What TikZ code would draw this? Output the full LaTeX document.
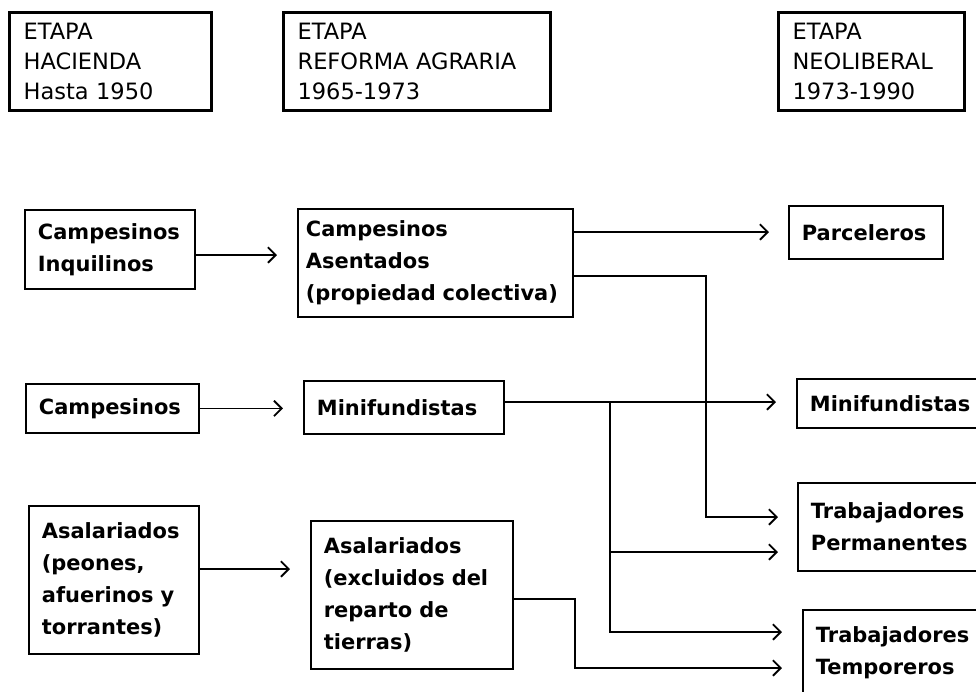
\documentclass[tikz,border=0pt]{standalone}
\usepackage{fontspec}
\setmainfont{DejaVu Sans}
\usetikzlibrary{arrows.meta, positioning}
\hyphenpenalty=10000

\begin{document}
\begin{tikzpicture}[x=0.025cm,y=-0.025cm,
	every node/.style={draw, anchor=north west, align=left, inner ysep=0pt, line width=1.3pt},
	etapa/.style={line width=2.3pt, inner xsep=0.35cm, font=\fontsize{16}{21.3}\selectfont},
	caja/.style={inner xsep=0.325cm, font=\fontsize{14.9}{22.8}\selectfont\bfseries},
	flecha/.style={line width=1.3pt, -{Straight Barb[length=5.5pt,width=11pt]}}]
									\useasboundingbox (0,0) rectangle (976,692);
									\clip (0,0) rectangle (976,692);
									\node[etapa, text width=4.35cm, minimum height=2.45cm] (hacienda) at (8,11) {ETAPA\\HACIENDA\\Hasta 1950};
									\node[etapa, text width=5.975cm, minimum height=2.45cm] (reforma) at (282,11) {ETAPA\\REFORMA AGRARIA\\1965-1973};
									\node[etapa, text width=3.95cm, minimum height=2.45cm] (neolib) at (777,11) {ETAPA\\NEOLIBERAL\\1973-1990};
									\node[caja, text width=3.6cm, minimum height=1.975cm] (inq) at (24,209) {Campesinos\\Inquilinos};
									\node[caja, inner xsep=0.2cm, text width=6.475cm, minimum height=2.7cm] (ase) at (297,208) {Campesinos\\Asentados\\(propiedad colectiva)};
									\node[caja, text width=3.2cm, minimum height=1.325cm] (parc) at (788,205) {Parceleros};
									\node[caja, text width=3.675cm, minimum height=1.225cm] (camp) at (25,383) {Campesinos};
									\node[caja, text width=4.35cm, minimum height=1.325cm] (minm) at (303,380) {Minifundistas};
									\node[caja, text width=4.35cm, minimum height=1.225cm] (minr) at (796,378) {Minifundistas};
									\node[caja, text width=3.6cm, minimum height=3.7cm] (asa1) at (28,505) {Asalariados\\(peones,\\afuerinos y\\torrantes)};
									\node[caja, text width=4.4cm, minimum height=3.7cm] (asa2) at (310,520) {Asalariados\\(excluidos del\\reparto de\\tierras)};
									\node[caja, text width=4.35cm, minimum height=2.2cm] (perm) at (797,482) {Trabajadores\\Permanentes};
									\node[caja, text width=4.35cm, minimum height=2.15cm] (temp) at (802,609) {Trabajadores\\Temporeros};
									\coordinate (bajada) at (706,517);
									\coordinate (nudo) at (610,402);
									\coordinate (ramal) at (610,552);
									\coordinate (quiebre) at (575,668);
									\draw[flecha, shorten >=0.5cm] (inq.east |- 0,255) -- (ase.west |- 0,255);
									\draw[flecha, shorten >=0.475cm] (ase.east |- 0,232) -- (parc.west |- 0,232);
									\draw[flecha, shorten >=0.475cm] (ase.east |- 0,276) -| (bajada) -- (perm.west |- bajada);
									\draw[flecha, shorten >=0.5cm] (camp.east) -- (minm.west |- camp.east);
									\draw[flecha, shorten >=0.5cm] (minm.east |- nudo) -- (minr.west |- nudo);
									\draw[flecha, shorten >=0.5cm] (nudo) |- (temp.west |- 0,632);
									\draw[flecha, shorten >=0.475cm] (ramal) -- (perm.west |- ramal);
									\draw[flecha, shorten >=0.5cm] (asa1.east |- 0,569) -- (asa2.west |- 0,569);
									\draw[flecha, shorten >=0.5cm] (asa2.east |- 0,599) -| (quiebre) -- (temp.west |- quiebre);
								\end{tikzpicture}
\end{document}
